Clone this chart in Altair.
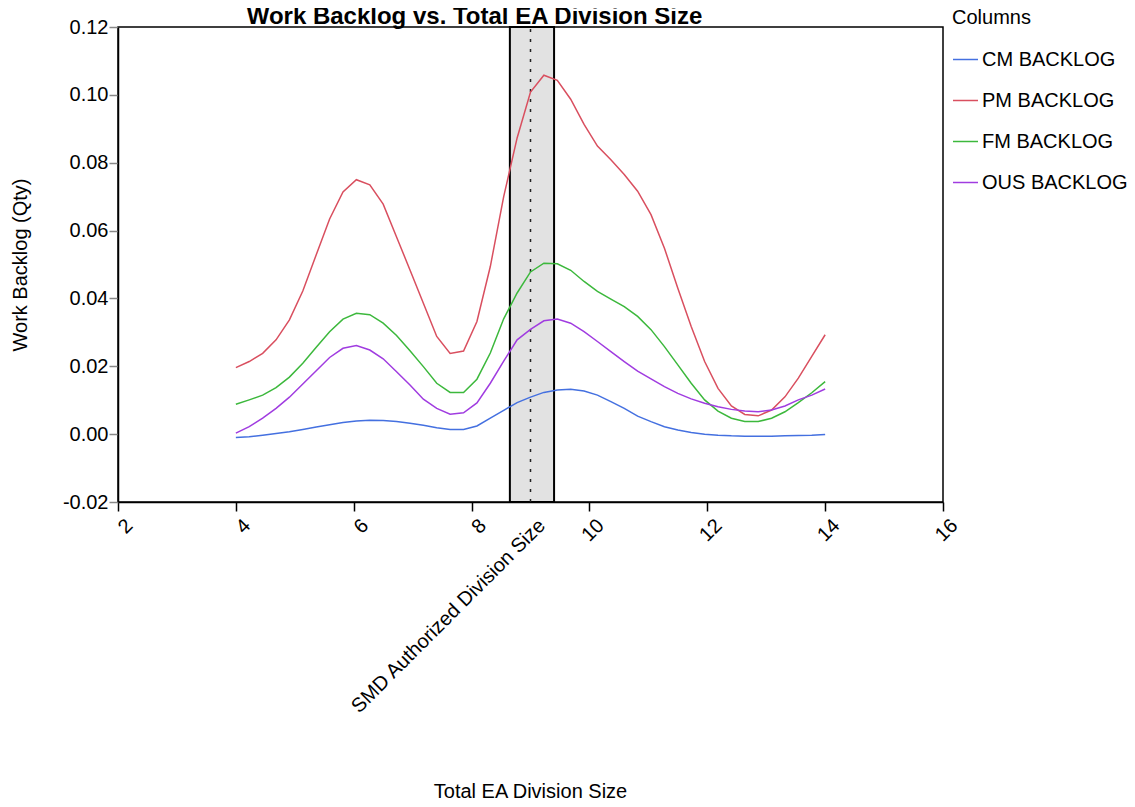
import altair as alt
import pandas as pd

# ---- data ----
x_vals = [4.0, 4.227, 4.455, 4.682, 4.909, 5.136, 5.364, 5.591, 5.818, 6.045,
          6.273, 6.5, 6.727, 6.955, 7.182, 7.409, 7.636, 7.864, 8.091, 8.318,
          8.545, 8.773, 9.0, 9.227, 9.455, 9.682, 9.909, 10.136, 10.364, 10.591,
          10.818, 11.045, 11.273, 11.5, 11.727, 11.955, 12.182, 12.409, 12.636, 12.864,
          13.091, 13.318, 13.545, 13.773, 14.0]

cm_backlog = [-0.0010, -0.0008, -0.0003, 0.0002, 0.0007, 0.0014, 0.0021, 0.0028, 0.0034, 0.0039,
              0.0041, 0.0040, 0.0037, 0.0032, 0.0026, 0.0019, 0.0014, 0.0014, 0.0024, 0.0047,
              0.0070, 0.0093, 0.0109, 0.0123, 0.0130, 0.0132, 0.0127, 0.0115, 0.0096, 0.0076,
              0.0053, 0.0037, 0.0022, 0.0012, 0.0005, 0.0000, -0.0003, -0.0005, -0.0006, -0.0006,
              -0.0006, -0.0005, -0.0004, -0.0003, -0.0001]

pm_backlog = [0.0196, 0.0214, 0.0238, 0.0278, 0.0337, 0.0422, 0.0529, 0.0634, 0.0714, 0.0750,
              0.0735, 0.0678, 0.0581, 0.0484, 0.0386, 0.0288, 0.0238, 0.0245, 0.0332, 0.0494,
              0.0700, 0.0873, 0.1008, 0.1058, 0.1043, 0.0987, 0.0913, 0.0849, 0.0809, 0.0765,
              0.0716, 0.0647, 0.0548, 0.0430, 0.0317, 0.0214, 0.0135, 0.0083, 0.0058, 0.0054,
              0.0071, 0.0110, 0.0165, 0.0229, 0.0293]

fm_backlog = [0.0088, 0.0101, 0.0115, 0.0137, 0.0168, 0.0209, 0.0256, 0.0302, 0.0339, 0.0356,
              0.0352, 0.0327, 0.0291, 0.0246, 0.0199, 0.0150, 0.0123, 0.0123, 0.0162, 0.0239,
              0.0340, 0.0416, 0.0478, 0.0504, 0.0502, 0.0483, 0.0450, 0.0421, 0.0398, 0.0376,
              0.0347, 0.0308, 0.0258, 0.0204, 0.0150, 0.0101, 0.0068, 0.0047, 0.0037, 0.0037,
              0.0047, 0.0066, 0.0093, 0.0122, 0.0155]

ous_backlog = [0.0003, 0.0022, 0.0047, 0.0076, 0.0109, 0.0148, 0.0187, 0.0226, 0.0253, 0.0261,
               0.0248, 0.0222, 0.0184, 0.0145, 0.0103, 0.0076, 0.0059, 0.0063, 0.0092, 0.0150,
               0.0215, 0.0278, 0.0309, 0.0334, 0.0339, 0.0327, 0.0302, 0.0273, 0.0243, 0.0214,
               0.0186, 0.0163, 0.0140, 0.0120, 0.0104, 0.0091, 0.0081, 0.0073, 0.0068, 0.0066,
               0.0071, 0.0083, 0.0101, 0.0115, 0.0133]

series_names = ["CM BACKLOG", "PM BACKLOG", "FM BACKLOG", "OUS BACKLOG"]
series_colors = ["#4470E0", "#D94F5F", "#3CB83C", "#A03CE0"]

x_ticks = [2, 4, 6, 8, 9, 10, 12, 14, 16]
y_ticks = [-0.02, 0.0, 0.02, 0.04, 0.06, 0.08, 0.10, 0.12]

band_lo = [8.65]
band_hi = [9.4]
smd_size = [9.0]
y_lo = [-0.02]
y_hi = [0.12]

# ---- tables ----
rows = []
for name, vals in zip(series_names, [cm_backlog, pm_backlog, fm_backlog, ous_backlog]):
    for xv, yv in zip(x_vals, vals):
        rows.append({"size": xv, "backlog": yv, "Columns": name})
df = pd.DataFrame(rows)

band_df = pd.DataFrame({"size": band_lo, "size2": band_hi, "backlog": y_lo, "backlog2": y_hi})
rule_df = pd.DataFrame({"size": smd_size, "backlog": y_lo, "backlog2": y_hi})

FONT = "Liberation Sans"

xscale = alt.Scale(domain=[2, 16], nice=False, zero=False)
yscale = alt.Scale(domain=[-0.02, 0.12], nice=False, zero=False)

x_axis = alt.Axis(
    values=x_ticks,
    labelAngle=-45,
    labelAlign="right",
    labelBaseline="top",
    labelPadding=4,
    labelOffset=4,
    labelLimit=400,
    labelExpr="datum.value == 9 ? 'SMD Authorized Division Size' : datum.label",
    tickColor={"condition": {"test": "datum.value == 9", "value": "transparent"}, "value": "black"},
    title="Total EA Division Size",
    titleX=412,
    titleY=289,
    titleAlign="center",
    titleBaseline="middle",
    grid=False,
    labelOverlap=False,
    labelFlush=False,
)

y_axis = alt.Axis(
    values=y_ticks,
    format=".2f",
    labelExpr="replace(format(datum.value, '.2f'), '\u2212', '-')",
    labelPadding=1,
    title="Work Backlog (Qty)",
    titleX=-98,
    titleY=237.5,
    titleAngle=270,
    titleAlign="center",
    titleBaseline="middle",
    grid=False,
    labelOverlap=False,
    labelFlush=False,
)

band = alt.Chart(band_df).mark_rect(
    fill="#e2e2e2", stroke="black", strokeWidth=2
).encode(
    x=alt.X("size:Q", scale=xscale, axis=x_axis),
    x2="size2:Q",
    y=alt.Y("backlog:Q", scale=yscale, axis=y_axis),
    y2="backlog2:Q",
)

rule = alt.Chart(rule_df).mark_rule(
    color="#222222", strokeWidth=1.5, strokeDash=[3, 7]
).encode(
    x=alt.X("size:Q", scale=xscale, axis=x_axis),
    y=alt.Y("backlog:Q", scale=yscale, axis=y_axis),
    y2="backlog2:Q",
)

lines = alt.Chart(df).mark_line(strokeWidth=1.5).encode(
    x=alt.X("size:Q", scale=xscale, axis=x_axis),
    y=alt.Y("backlog:Q", scale=yscale, axis=y_axis),
    color=alt.Color(
        "Columns:N",
        scale=alt.Scale(domain=series_names, range=series_colors),
        sort=series_names,
        legend=alt.Legend(
            orient="none",
            legendX=834,
            legendY=-19,
            title="Columns",
            titleFont=FONT,
            titleFontSize=20,
            titleFontWeight="normal",
            titleColor="black",
            titlePadding=18,
            labelFont=FONT,
            labelFontSize=20,
            labelColor="black",
            labelOffset=3,
            labelLimit=300,
            symbolType="stroke",
            symbolSize=625,
            symbolStrokeWidth=1.5,
            rowPadding=17,
        ),
    ),
    order="size:Q",
)

chart = alt.layer(band, rule, lines).properties(
    width=825,
    height=475,
    background="white",
    title=alt.TitleParams(
        "Work Backlog vs. Total EA Division Size",
        font=FONT,
        fontSize=24,
        fontWeight="bold",
        color="black",
        anchor="middle",
        frame="group",
        dx=-56,
        offset=-40,
        baseline="alphabetic",
    ),
    autosize=alt.AutoSizeParams(type="none"),
    padding={"left": 110, "top": 19, "right": 184, "bottom": 297},
).configure_view(
    stroke="black", strokeWidth=1.5
).configure_axis(
    domainColor="black",
    domainWidth=1.5,
    tickWidth=1.5,
    tickSize=9,
    labelFont=FONT,
    labelFontSize=20,
    labelColor="black",
    titleFont=FONT,
    titleFontSize=20,
    titleFontWeight="normal",
    titleColor="black",
)

chart.save("out.html", embed_options={"renderer": "svg", "actions": False})
